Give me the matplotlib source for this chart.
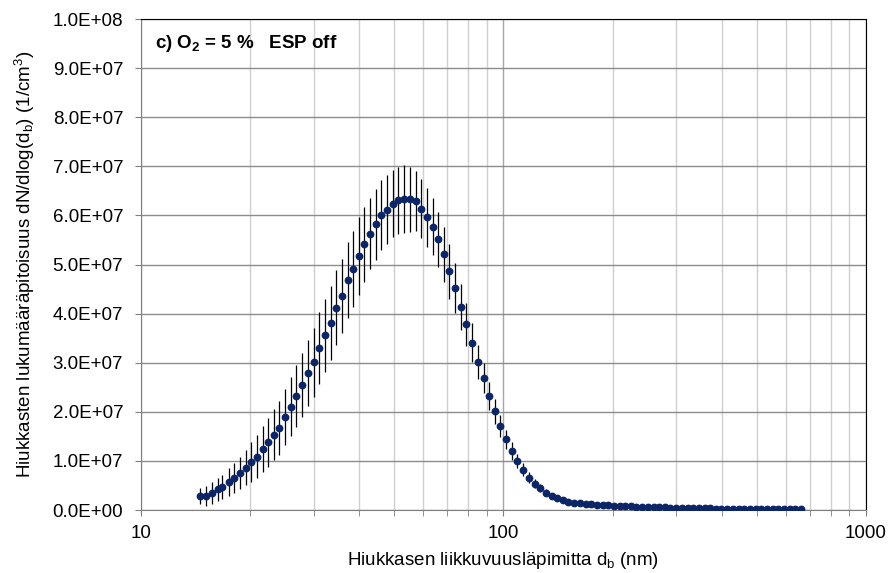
import numpy as np
import matplotlib
matplotlib.use("Agg")
import matplotlib.pyplot as plt
from matplotlib.ticker import FuncFormatter, LogLocator, NullFormatter, MultipleLocator

plt.rcParams['font.family'] = ['Liberation Sans', 'DejaVu Sans']
plt.rcParams['mathtext.fontset'] = 'custom'
plt.rcParams['mathtext.rm'] = 'Liberation Sans'
plt.rcParams['mathtext.it'] = 'Liberation Sans:italic'
plt.rcParams['mathtext.bf'] = 'Liberation Sans:bold'

# mobility diameters (nm), SMPS channels
diameters = [14.6, 15.1, 15.7, 16.3, 16.8, 17.5, 18.1, 18.8, 19.5, 20.2,
             20.9, 21.7, 22.5, 23.3, 24.1, 25.0, 25.9, 26.9, 27.9, 28.9,
             30.0, 31.1, 32.2, 33.4, 34.6, 35.9, 37.2, 38.5, 40.0, 41.4,
             42.9, 44.5, 46.1, 47.8, 49.6, 51.4, 53.3, 55.2, 57.3, 59.4,
             61.5, 63.8, 66.1, 68.5, 71.0, 73.7, 76.4, 79.1, 82.0, 85.1,
             88.2, 91.4, 94.7, 98.2, 101.8, 105.5, 109.4, 113.4, 117.6, 121.9,
             126.3, 131.0, 135.8, 140.7, 145.9, 151.2, 156.8, 162.5, 168.5, 174.7,
             181.1, 187.7, 194.6, 201.7, 209.1, 216.7, 224.7, 232.9, 241.4, 250.3,
             259.5, 269.0, 278.8, 289.0, 299.6, 310.6, 322.0, 333.8, 346.0, 358.7,
             371.8, 385.4, 399.5, 414.2, 429.4, 445.1, 461.4, 478.3, 495.8, 514.0,
             532.8, 552.3, 572.5, 593.5, 615.3, 637.8, 661.2]

# dN/dlog(db), units of 1e7 1/cm3
conc = [0.28, 0.29, 0.35, 0.42, 0.47, 0.57, 0.65, 0.75, 0.86, 0.98,
        1.09, 1.24, 1.38, 1.53, 1.68, 1.90, 2.10, 2.33, 2.54, 2.79,
        3.01, 3.30, 3.56, 3.81, 4.12, 4.36, 4.68, 4.91, 5.17, 5.41,
        5.63, 5.82, 6.01, 6.12, 6.24, 6.31, 6.33, 6.33, 6.29, 6.14,
        5.96, 5.77, 5.51, 5.21, 4.86, 4.53, 4.14, 3.78, 3.41, 3.02,
        2.69, 2.32, 2.01, 1.71, 1.44, 1.20, 1.00, 0.82, 0.66, 0.54,
        0.44, 0.35, 0.29, 0.24, 0.20, 0.17, 0.15, 0.136, 0.12, 0.115,
        0.11, 0.10, 0.095, 0.09, 0.082, 0.078, 0.075, 0.07, 0.065, 0.062,
        0.058, 0.055, 0.052, 0.049, 0.046, 0.044, 0.041, 0.039, 0.037, 0.035,
        0.033, 0.031, 0.029, 0.028, 0.026, 0.025, 0.023, 0.022, 0.021, 0.019,
        0.018, 0.017, 0.016, 0.015, 0.014, 0.013, 0.012]

# standard deviation, same units
conc_err = [0.16, 0.20, 0.22, 0.24, 0.25, 0.28, 0.30, 0.33, 0.36, 0.40,
            0.44, 0.47, 0.50, 0.52, 0.55, 0.57, 0.60, 0.63, 0.65, 0.68,
            0.70, 0.73, 0.74, 0.75, 0.76, 0.76, 0.77, 0.78, 0.79, 0.76,
            0.73, 0.72, 0.71, 0.70, 0.68, 0.68, 0.69, 0.66, 0.61, 0.60,
            0.60, 0.58, 0.56, 0.56, 0.56, 0.51, 0.47, 0.43, 0.39, 0.35,
            0.31, 0.28, 0.25, 0.22, 0.20, 0.18, 0.15, 0.13, 0.11, 0.10,
            0.08, 0.07, 0.06, 0.05, 0.045, 0.04, 0.035, 0.03, 0.025, 0.022,
            0.02, 0.018, 0.016, 0.015, 0.014, 0.013, 0.012, 0.011, 0.01, 0.01,
            0.009, 0.009, 0.008, 0.008, 0.007, 0.007, 0.007, 0.006, 0.006, 0.006,
            0.005, 0.005, 0.005, 0.005, 0.004, 0.004, 0.004, 0.004, 0.004, 0.003,
            0.003, 0.003, 0.003, 0.003, 0.003, 0.003, 0.003]

x = np.array(diameters)
y = np.array(conc) * 1e7
yerr = np.array(conc_err) * 1e7

fig = plt.figure(figsize=(8.94, 5.73), dpi=100)
ax = fig.add_axes([0.1573, 0.1099, 0.9687 - 0.1573, 0.9668 - 0.1099])

ax.errorbar(x, y, yerr=yerr, fmt='o', color='#0b2566', markersize=4.6,
            ecolor='black', elinewidth=0.9, capsize=0, zorder=3)

ax.set_xscale('log')
ax.set_xlim(10, 1000)
ax.set_ylim(0, 1e8)
ax.yaxis.set_major_locator(MultipleLocator(1e7))
ax.yaxis.set_major_formatter(FuncFormatter(lambda v, p: '{:.1E}'.format(v)))
ax.xaxis.set_major_formatter(FuncFormatter(lambda v, p: '%d' % v))
ax.xaxis.set_minor_locator(LogLocator(base=10, subs=np.arange(2, 10)))
ax.xaxis.set_minor_formatter(NullFormatter())

ax.grid(True, which='major', axis='y', color='#8c8c8c', linewidth=1.0)
ax.grid(True, which='major', axis='x', color='#a6a6a6', linewidth=1.0)
ax.grid(True, which='minor', axis='x', color='#d0d0d0', linewidth=1.0)
ax.set_axisbelow(True)

for side in ['left', 'bottom']:
    ax.spines[side].set_color('#808080')
for side in ['top', 'right']:
    ax.spines[side].set_color('black')

ax.tick_params(axis='both', which='major', direction='out', length=4.5,
               color='#808080', labelsize=13.5, pad=6)
ax.tick_params(axis='y', pad=8)
ax.tick_params(axis='x', which='minor', direction='out', length=4.5, color='#808080')

ax.set_xlabel(r'Hiukkasen liikkuvuusläpimitta d$_\mathrm{b}$ (nm)', fontsize=13.5, labelpad=6)
ax.set_ylabel(r'Hiukkasten lukumääräpitoisuus dN/dlog(d$_\mathrm{b}$) (1/cm$^\mathrm{3}$)',
              fontsize=13.5, labelpad=11)

ax.text(0.02, 0.951, r'c) O$_\mathbf{2}$ = 5 %   ESP off', transform=ax.transAxes,
        fontsize=13.5, fontweight='bold', va='center', ha='left')

fig.savefig('out.png', dpi=100)
